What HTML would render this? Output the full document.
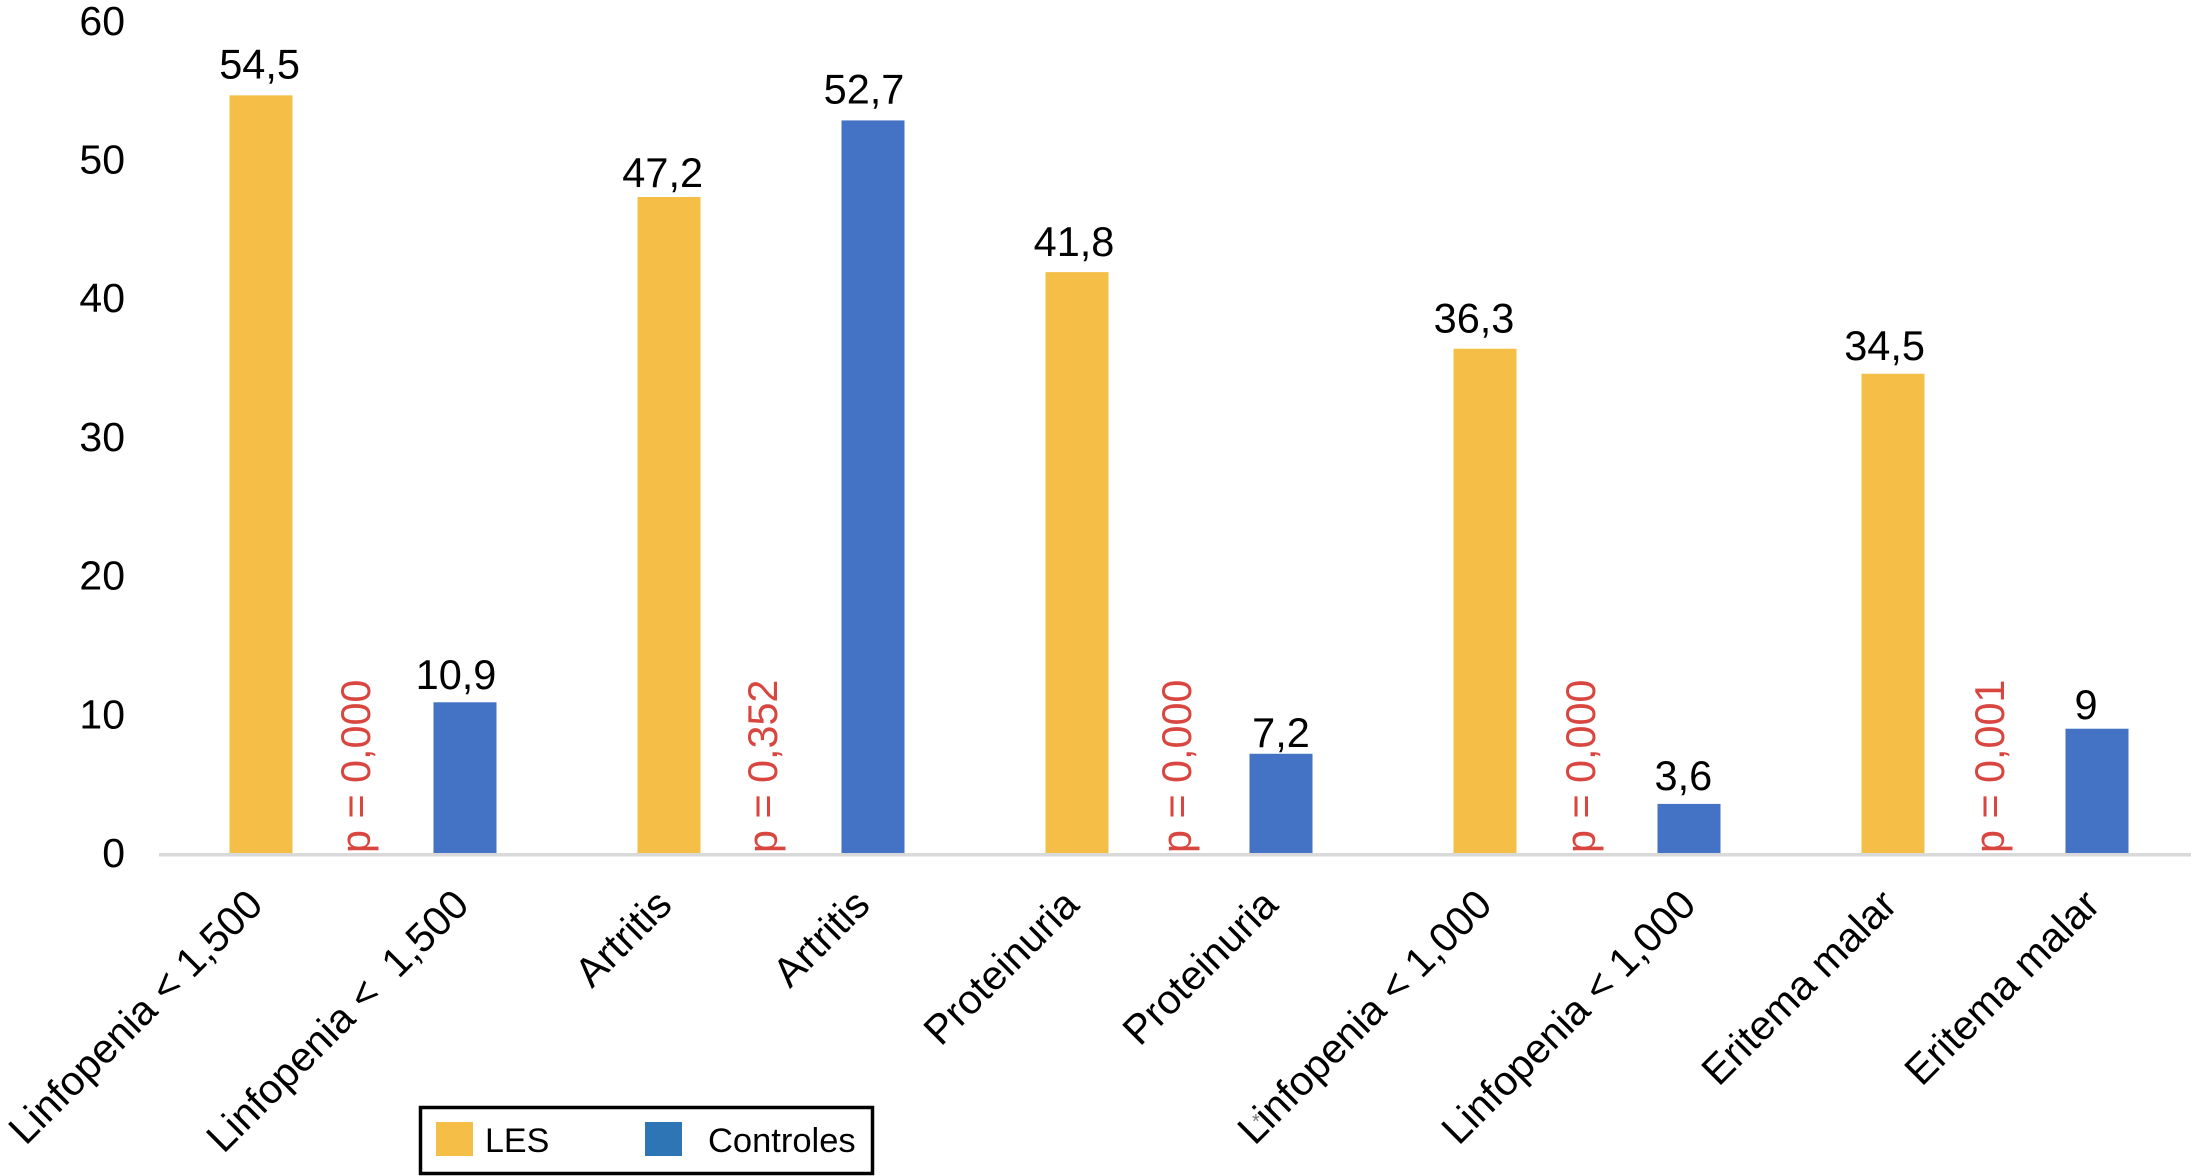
<!DOCTYPE html>
<html lang="es">
<head>
<meta charset="utf-8">
<title>LES vs Controles</title>
<style>
html,body{margin:0;padding:0;background:#fff;width:2191px;height:1176px;overflow:hidden}
svg{display:block;font-family:"Liberation Sans",Arial,sans-serif}
</style>
</head>
<body>
<svg id="chart" xmlns="http://www.w3.org/2000/svg" width="2191" height="1176" viewBox="0 0 2191 1176">
  <g id="y-ticks"></g>
  <g id="bars"></g>
  <g id="values"></g>
  <g id="p-values"></g>
  <rect x="159" y="853" width="2032" height="3.5" fill="#d9d9d9"></rect>
  <g id="x-labels"></g>
  <text x="1252" y="1128" font-size="20" fill="#777">*</text>
  <g>
    <rect x="420.5" y="1107.5" width="452" height="66" fill="#fff" stroke="#000" stroke-width="3.5"></rect>
    <rect x="436" y="1122" width="37" height="34" fill="#f5be46"></rect>
    <text x="485" y="1152" font-size="34" fill="#000">LES</text>
    <rect x="645" y="1122" width="37" height="34" fill="#2e75b6"></rect>
    <text x="708" y="1152" font-size="34.5" fill="#000">Controles</text>
  </g>
</svg>
<script>
const categories = ["Linfopenia < 1,500", "Artritis", "Proteinuria", "Linfopenia < 1,000", "Eritema malar"];
const controlCategories = ["Linfopenia <\u00A0\u00A01,500", "Artritis", "Proteinuria", "Linfopenia < 1,000", "Eritema malar"];
const lesValues = [54.5, 47.2, 41.8, 36.3, 34.5];
const controlValues = [10.9, 52.7, 7.2, 3.6, 9];
const pValues = ["0,000", "0,352", "0,000", "0,000", "0,001"];
const yTicks = [0, 10, 20, 30, 40, 50, 60];

const NS = "http://www.w3.org/2000/svg";
const BASELINE = 854, UNITS = 13.92, TICK_UNITS = 13.87, SLOT_START = 159, SLOT = 204, BAR_W = 63;
const yScale = v => BASELINE - v * UNITS;
const tickScale = v => BASELINE - v * TICK_UNITS;
const xCenter = i => SLOT_START + SLOT * (i + 0.5);
const fmt = v => String(v).replace(".", ",");

function make(tag, parent, attrs) {
  const el = document.createElementNS(NS, tag);
  for (const k in attrs) el.setAttribute(k, attrs[k]);
  parent.appendChild(el);
  return el;
}

const tickGroup = document.getElementById("y-ticks");
yTicks.forEach(t => {
  const el = make("text", tickGroup, {x: 125, y: tickScale(t) + 13, "text-anchor": "end", "font-size": 41, fill: "#000"});
  
  
  el.textContent = t;
});

const barGroup = document.getElementById("bars");
const valueGroup = document.getElementById("values");
const labelGroup = document.getElementById("x-labels");

function drawBar(slot, value, color, label, seriesName, valueDx, valueDy, labelDx) {
  const cx = xCenter(slot);
  const bar = make("rect", barGroup, {x: cx - BAR_W / 2, y: yScale(value), width: BAR_W, height: BASELINE - yScale(value), fill: color});
  
  

  const val = make("text", valueGroup, {x: cx - 7 + valueDx, y: yScale(value) - 14 + valueDy, "text-anchor": "middle", "font-size": 41.5, fill: "#000"});
  
  
  val.textContent = fmt(value);

  const lx = cx + 16 + labelDx, ly = 907;
  const cat = make("text", labelGroup, {x: lx, y: ly, "text-anchor": "end", "font-size": 41, fill: "#000", transform: "rotate(-45 " + lx + " " + ly + ")"});
  
  
  cat.textContent = label;
}

const LES = "#f5be46", CTRL = "#4472c4";
drawBar(0, lesValues[0], LES, categories[0], "les", 5.6, -3, -12);
drawBar(1, controlValues[0], CTRL, controlCategories[0], "controles", -2, 0.5, -10);
drawBar(2, lesValues[1], LES, categories[1], "les", 0.7, 3.8, -11);
drawBar(3, controlValues[1], CTRL, controlCategories[1], "controles", -2, -3, -17);
drawBar(4, lesValues[2], LES, categories[2], "les", 4, -2, -12);
drawBar(5, controlValues[2], CTRL, controlCategories[2], "controles", 7, 7.4, -17);
drawBar(6, lesValues[3], LES, categories[3], "les", -4, -2.4, -7);
drawBar(7, controlValues[3], CTRL, controlCategories[3], "controles", 1.4, 0.2, -7);
drawBar(8, lesValues[4], LES, categories[4], "les", -1.4, 0, -10);
drawBar(9, controlValues[4], CTRL, controlCategories[4], "controles", -4, 4.5, -11);

const pGroup = document.getElementById("p-values");
function drawP(group, nudge) {
  const x = (xCenter(group * 2) + xCenter(group * 2 + 1)) / 2 + nudge;
  const y = 853;
  const p = make("text", pGroup, {x: x, y: y, "font-size": 41.3, fill: "#d9453f", transform: "rotate(-90 " + x + " " + y + ")"});
  
  
  p.textContent = "p = " + pValues[group];
}
drawP(0, 7);
drawP(1, 6);
drawP(2, 12);
drawP(3, 8);
drawP(4, 9);
</script>
</body>
</html>
